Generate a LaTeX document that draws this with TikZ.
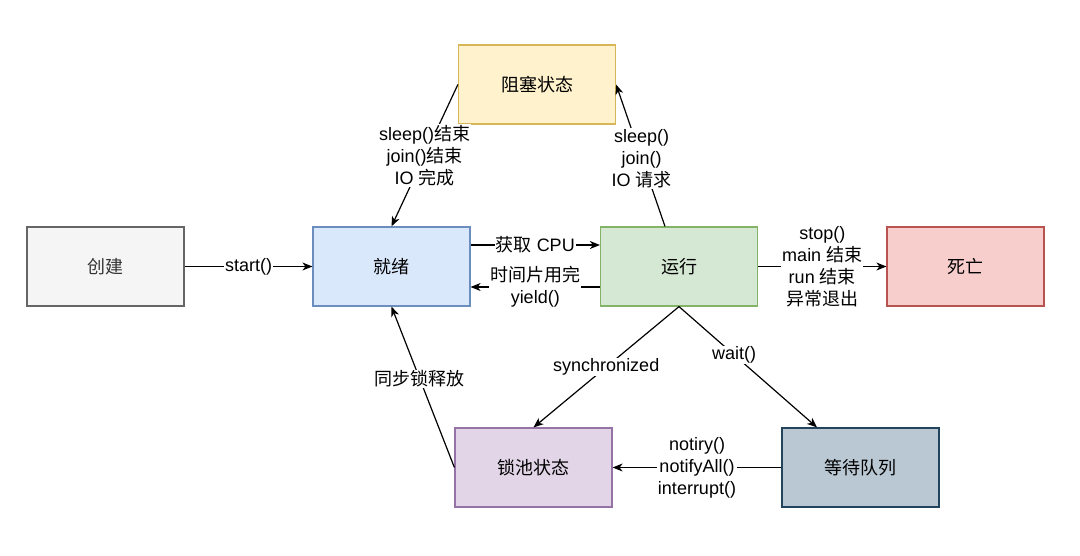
\documentclass[tikz,border=0pt]{standalone}
\usepackage{fontspec}
\setmainfont{Liberation Sans}
\newfontfamily\cjk{Noto Sans CJK SC}
\newcommand\zh[1]{{\cjk #1}}
\usetikzlibrary{arrows.meta}
\definecolor{grayF}{HTML}{F5F5F5}\definecolor{grayD}{HTML}{666666}
\definecolor{blueF}{HTML}{DAE8FC}\definecolor{blueD}{HTML}{6C8EBF}
\definecolor{greenF}{HTML}{D5E8D4}\definecolor{greenD}{HTML}{82B366}
\definecolor{redF}{HTML}{F8CECC}\definecolor{redD}{HTML}{B85450}
\definecolor{yelF}{HTML}{FFF2CC}\definecolor{yelD}{HTML}{D6B656}
\definecolor{purF}{HTML}{E1D5E7}\definecolor{purD}{HTML}{9673A6}
\definecolor{slateF}{HTML}{BAC8D3}\definecolor{slateD}{HTML}{23445D}
\definecolor{txt}{HTML}{333333}
\tikzset{
  box/.style={draw, line width=1.2pt, minimum width=157pt, minimum height=79pt, inner sep=0pt, font=\fontsize{18}{22}\selectfont\cjk},
  arr/.style={line width=1.2pt, -{Stealth[length=10pt,width=8pt,inset=3pt]}},
  lbl/.style={fill=white, inner sep=1pt, align=center, font=\fontsize{18}{22}\selectfont}
}
\begin{document}
\begin{tikzpicture}[x=1pt,y=-1pt]
\useasboundingbox[fill=white] (0,0) rectangle (1080,555);
\node[box, fill=grayF, draw=grayD, text=txt] (create) at (105.5,266.5) {创建};
\node[box, fill=blueF, draw=blueD] (ready) at (391.5,266.5) {就绪};
\node[box, fill=greenF, draw=greenD] (run) at (679,266.5) {运行};
\node[box, fill=redF, draw=redD] (dead) at (965.5,266.5) {死亡};
\node[box, fill=yelF, draw=yelD] (blocked) at (537,84.5) {阻塞状态};
\node[box, fill=purF, draw=purD] (lock) at (533.5,467.5) {锁池状态};
\node[box, fill=slateF, draw=slateD] (wait) at (860.5,467.5) {等待队列};

\draw[arr] (create) -- node[lbl]{start()} (ready);
\draw[arr] ([yshift=21.5pt]ready.east) -- node[lbl]{\zh{获取} CPU} ([yshift=21.5pt]run.west);
\draw[arr] ([yshift=-20.5pt]run.west) -- node[lbl]{\zh{时间片用完}\\yield()} ([yshift=-20.5pt]ready.east);
\draw[arr] (run) -- node[lbl]{stop()\\main \zh{结束}\\run \zh{结束}\\\zh{异常退出}} (dead);
\draw[arr] (blocked.west) -- node[lbl]{sleep()\zh{结束}\\join()\zh{结束}\\IO \zh{完成}} (ready.north);
\draw[arr] ([xshift=-14pt]run.north) -- node[lbl, pos=0.48]{sleep()\\join()\\IO \zh{请求}} (blocked.east);
\draw[arr] (run.south) -- node[lbl]{synchronized} (lock.north);
\draw[arr] (run.south) -- node[lbl, pos=0.4]{wait()} ([xshift=-43.5pt]wait.north);
\draw[arr] (wait) -- node[lbl]{notiry()\\notifyAll()\\interrupt()} (lock);
\draw[arr] (lock.west) -- node[lbl, pos=0.55]{\zh{同步锁释放}} (ready.south);
\end{tikzpicture}
\end{document}
